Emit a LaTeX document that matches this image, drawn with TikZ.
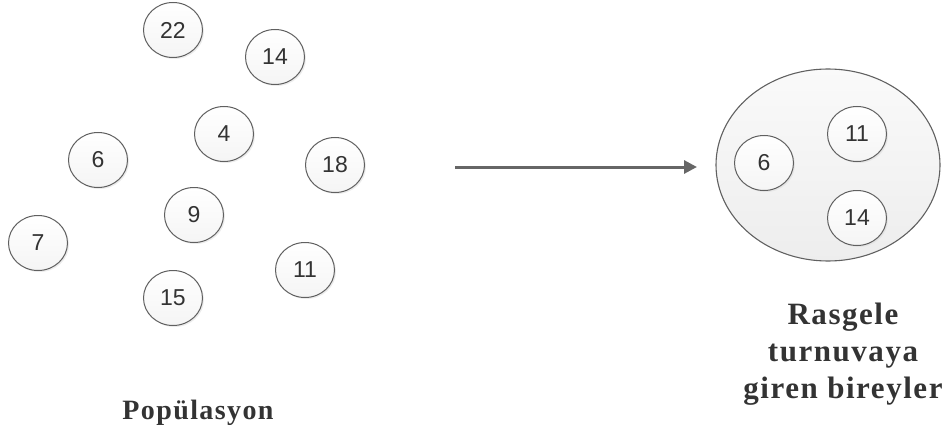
\documentclass[tikz,border=0pt]{standalone}
\usepackage{fontspec}
\setmainfont{Liberation Serif}
\newfontfamily\numfont{Liberation Sans}
\newfontfamily\lblfont[LetterSpace=5]{Liberation Serif}
\usetikzlibrary{arrows.meta,shadows,shapes.geometric}
\definecolor{edgec}{HTML}{606060}
\definecolor{txtc}{HTML}{333333}
\definecolor{arrc}{HTML}{666666}
\tikzset{
  indiv/.style={ellipse, draw=edgec, line width=1pt, minimum width=59pt, minimum height=55pt,
    inner sep=0pt, top color=white, bottom color=black!4,
    drop shadow={shadow xshift=1.5pt, shadow yshift=-1.5pt, fill=black!15},
    font=\numfont\fontsize{23}{27}\selectfont, text=txtc},
  lbl/.style={text=txtc, align=center},
}
\begin{document}
\begin{tikzpicture}[x=1pt,y=-1pt]
\useasboundingbox (0,0) rectangle (944,441);
\node[indiv] (n22) at (173,30) {22};
\node[indiv] (n14) at (275,57) {14};
\node[indiv] (n4) at (224,134) {4};
\node[indiv] (n6) at (98,160) {6};
\node[indiv] (n18) at (335,165) {18};
\node[indiv] (n9) at (194,215) {9};
\node[indiv] (n7) at (38,243) {7};
\node[indiv] (n11) at (305,270) {11};
\node[indiv] (n15) at (173,298) {15};
\node[lbl, font=\lblfont\bfseries\fontsize{28}{34}\selectfont] (pop) at (198,413) {Popülasyon};
\node[ellipse, draw=edgec, line width=1.1pt, minimum width=224pt, minimum height=192pt,
  top color=black!2, bottom color=black!7] (big) at (828,165) {};
\node[indiv] (t6) at (764,163) {6};
\node[indiv] (t11) at (857,134) {11};
\node[indiv] (t14) at (857,218) {14};
\node[lbl, font=\lblfont\bfseries\fontsize{31}{37}\selectfont] (tur) at (843,354) {Rasgele\\turnuvaya\\giren bireyler};
\coordinate (a1) at (455,167);
\coordinate (a2) at (697,167);
\draw[arrc, line width=3pt, -{Triangle[length=13pt,width=13pt]}] (a1) -- (a2);
\end{tikzpicture}
\end{document}
